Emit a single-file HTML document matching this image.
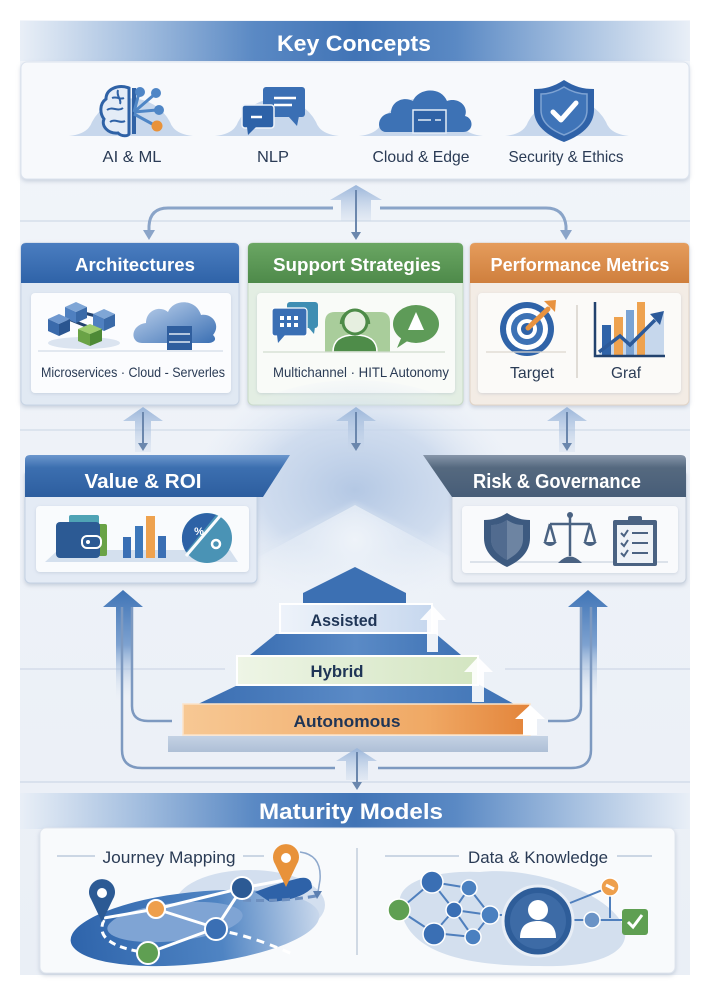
<!DOCTYPE html>
<html><head><meta charset="utf-8">
<style>
html,body{margin:0;padding:0;background:#fff;}
svg{display:block;}
text{font-family:"Liberation Sans",Arial,sans-serif;}
</style></head><body>
<svg width="710" height="996" viewBox="0 0 710 996" xmlns="http://www.w3.org/2000/svg">
<defs>
 <linearGradient id="bg" x1="0" y1="0" x2="0" y2="1">
  <stop offset="0" stop-color="#f2f5fa"/><stop offset="1" stop-color="#eaeff6"/>
 </linearGradient>
 <linearGradient id="band" x1="0" y1="0" x2="1" y2="0">
  <stop offset="0" stop-color="#e9eff7"/><stop offset="0.17" stop-color="#a6c0e0"/>
  <stop offset="0.35" stop-color="#5a89c4"/><stop offset="0.5" stop-color="#4174b6"/>
  <stop offset="0.65" stop-color="#5a89c4"/><stop offset="0.83" stop-color="#a6c0e0"/>
  <stop offset="1" stop-color="#e9eff7"/>
 </linearGradient>
 <linearGradient id="hBlue" x1="0" y1="0" x2="0" y2="1"><stop offset="0" stop-color="#4a7dc0"/><stop offset="1" stop-color="#2f63a8"/></linearGradient>
 <linearGradient id="hGreen" x1="0" y1="0" x2="0" y2="1"><stop offset="0" stop-color="#6aa663"/><stop offset="1" stop-color="#4e8a4a"/></linearGradient>
 <linearGradient id="hOrange" x1="0" y1="0" x2="0" y2="1"><stop offset="0" stop-color="#e59c5c"/><stop offset="1" stop-color="#cf7f3d"/></linearGradient>
 <linearGradient id="hVal" x1="0" y1="0" x2="0" y2="1"><stop offset="0" stop-color="#6c97cd"/><stop offset="0.3" stop-color="#3c6fb0"/><stop offset="1" stop-color="#2d5e9f"/></linearGradient>
 <linearGradient id="hRisk" x1="0" y1="0" x2="0" y2="1"><stop offset="0" stop-color="#8796aa"/><stop offset="0.3" stop-color="#55697f"/><stop offset="1" stop-color="#475d78"/></linearGradient>
 <linearGradient id="upArrow" x1="0" y1="0" x2="0" y2="1"><stop offset="0" stop-color="#9bb6da"/><stop offset="1" stop-color="#c9d7ea" stop-opacity="0.3"/></linearGradient>
 <linearGradient id="bigArrow" x1="0" y1="0" x2="0" y2="1"><stop offset="0" stop-color="#3f74b6"/><stop offset="0.5" stop-color="#7ea2d0"/><stop offset="1" stop-color="#dfe7f2" stop-opacity="0"/></linearGradient>
 <radialGradient id="glowR" cx="355" cy="490" r="170" gradientUnits="userSpaceOnUse" gradientTransform="translate(355 490) scale(1 0.7) translate(-355 -490)">
  <stop offset="0" stop-color="#b4c8e4"/><stop offset="0.55" stop-color="#c8d7ec" stop-opacity="0.8"/><stop offset="1" stop-color="#e9eff7" stop-opacity="0"/>
 </radialGradient>
 <radialGradient id="roofR" cx="355" cy="540" r="120" gradientUnits="userSpaceOnUse">
  <stop offset="0" stop-color="#eef3f9"/><stop offset="1" stop-color="#eef3f9" stop-opacity="0"/>
 </radialGradient>
 <linearGradient id="barA" x1="0" y1="0" x2="1" y2="0"><stop offset="0" stop-color="#eef3fa"/><stop offset="1" stop-color="#c6d7ee"/></linearGradient>
 <linearGradient id="barH" x1="0" y1="0" x2="1" y2="0"><stop offset="0" stop-color="#eef5e6"/><stop offset="1" stop-color="#d3e5c1"/></linearGradient>
 <linearGradient id="barO" x1="0" y1="0" x2="1" y2="0"><stop offset="0" stop-color="#f7c894"/><stop offset="0.7" stop-color="#f0a965"/><stop offset="1" stop-color="#e3843a"/></linearGradient>
 <linearGradient id="pyr" x1="0" y1="0" x2="1" y2="0"><stop offset="0" stop-color="#3a6eb2"/><stop offset="0.5" stop-color="#5a8ac6"/><stop offset="1" stop-color="#3f73b5"/></linearGradient>
 <linearGradient id="slab" x1="0" y1="0" x2="0" y2="1"><stop offset="0" stop-color="#c4d2e4"/><stop offset="1" stop-color="#aebfd6"/></linearGradient>
 <linearGradient id="archCloud" x1="0" y1="0" x2="1" y2="1"><stop offset="0" stop-color="#c2d5ee"/><stop offset="1" stop-color="#3a6fb3"/></linearGradient>
 <linearGradient id="journey" x1="0" y1="0" x2="1" y2="0"><stop offset="0" stop-color="#2e64ab"/><stop offset="0.6" stop-color="#4f84c3"/><stop offset="1" stop-color="#c9d8ec"/></linearGradient>
 <filter id="sh" x="-10%" y="-10%" width="120%" height="130%"><feDropShadow dx="0" dy="2" stdDeviation="2" flood-color="#7d8fa8" flood-opacity="0.35"/></filter>
 <filter id="sh2" x="-10%" y="-10%" width="120%" height="130%"><feDropShadow dx="0" dy="1" stdDeviation="1.5" flood-color="#8a9ab0" flood-opacity="0.3"/></filter>
 <filter id="blur"><feGaussianBlur stdDeviation="3"/></filter>
</defs>

<rect x="0" y="0" width="710" height="996" fill="#ffffff"/>
<rect x="20" y="20" width="670" height="955" fill="url(#bg)"/>

<line x1="20" y1="221" x2="690" y2="221" stroke="#d6dfea" stroke-width="1.5"/>
<line x1="20" y1="430" x2="690" y2="430" stroke="#d6dfea" stroke-width="1.5"/>
<line x1="20" y1="669" x2="225" y2="669" stroke="#d3dcea" stroke-width="1.5"/>
<line x1="505" y1="669" x2="690" y2="669" stroke="#d3dcea" stroke-width="1.5"/>
<line x1="20" y1="782" x2="690" y2="782" stroke="#d3dcea" stroke-width="1.5"/>

<!-- KEY CONCEPTS header -->
<rect x="20" y="21" width="670" height="40" fill="url(#band)"/>
<text x="354" y="51" font-size="22" font-weight="bold" fill="#ffffff" text-anchor="middle" textLength="154" lengthAdjust="spacingAndGlyphs">Key Concepts</text>

<rect x="21" y="62" width="668" height="117" rx="6" fill="#f7f9fc" stroke="#dbe3ee" filter="url(#sh)"/>

<g fill="#c7d7ec">
 <path d="M69,136 Q88,134 92,122 A44 44 0 0 1 170,122 Q174,134 193,136 Z"/>
 <path d="M215,136 Q234,134 238,122 A44 44 0 0 1 316,122 Q320,134 339,136 Z"/>
 <path d="M359,136 Q378,134 382,122 A44 44 0 0 1 460,122 Q464,134 483,136 Z"/>
 <path d="M505,136 Q524,134 528,122 A44 44 0 0 1 606,122 Q610,134 629,136 Z"/>
</g>
<path d="M129,88 C118,84 106,89 106,99 C99,104 100,114 104,119 C101,126 108,134 118,133 C122,137 128,136 129,134 Z" fill="#e4ecf7" stroke="#2f62a6" stroke-width="3"/>
<path d="M112,98 C117,96 120,100 124,98 M107,110 C112,106 118,112 123,108 M110,122 C115,118 120,124 125,121 M118,90 C116,96 122,100 120,104" fill="none" stroke="#2f62a6" stroke-width="2"/>
<line x1="134" y1="88" x2="134" y2="134" stroke="#2f62a6" stroke-width="4"/>
<g stroke="#4f86c6" stroke-width="3" fill="none">
 <path d="M134,112 L139,93"/><path d="M134,112 L155,94"/><path d="M134,112 L157,110"/><path d="M134,114 L156,126"/>
</g>
<circle cx="140" cy="92" r="5" fill="#4f86c6"/>
<circle cx="156" cy="93" r="5" fill="#4f86c6"/>
<circle cx="159" cy="110" r="5" fill="#4f86c6"/>
<circle cx="157" cy="126" r="5.5" fill="#e8923a"/>
<rect x="263" y="87" width="42" height="30" rx="3" fill="#3a6fb4"/>
<polygon points="288,116 299,116 297,126" fill="#3a6fb4"/>
<line x1="274" y1="98" x2="296" y2="98" stroke="#fff" stroke-width="2.5"/>
<line x1="274" y1="105" x2="292" y2="105" stroke="#fff" stroke-width="2.5"/>
<rect x="242" y="105" width="32" height="23" rx="3" fill="#2d62a8" stroke="#eef3fa" stroke-width="1.5"/>
<polygon points="247,127 256,127 248,135" fill="#2d62a8"/>
<line x1="251" y1="117" x2="262" y2="117" stroke="#fff" stroke-width="2.5"/>
<path d="M386,132 C376,132 376,114 391,113 C391,101 404,96 413,101 C418,88 441,86 447,101 C458,97 469,106 465,116 C474,118 474,132 463,132 Z" fill="#3d72b5"/>
<rect x="413" y="110" width="33" height="23" fill="#2f62a6" stroke="#e4ecf7" stroke-width="1.5"/>
<line x1="418" y1="120" x2="431" y2="120" stroke="#e4ecf7" stroke-width="1.5"/>
<line x1="435" y1="120" x2="441" y2="120" stroke="#e4ecf7" stroke-width="1.5"/>
<path d="M564,80 C553,87 545,89 534,89 L534,110 C534,126 548,136 564,142 C580,136 594,126 594,110 L594,89 C583,89 575,87 564,80 Z" fill="#2f62a8"/>
<path d="M564,87 C556,92 549,94 541,94 L541,110 C541,122 551,130 564,135 C577,130 587,122 587,110 L587,94 C579,94 572,92 564,87 Z" fill="#3f74b8" stroke="#7ea3d3" stroke-width="1.5"/>
<polyline points="553,112 561,120 576,103" fill="none" stroke="#fff" stroke-width="5" stroke-linecap="round" stroke-linejoin="round"/>

<g font-size="16" fill="#2a3b55" text-anchor="middle">
 <text x="132" y="162" textLength="59" lengthAdjust="spacingAndGlyphs">AI &amp; ML</text>
 <text x="273" y="162" textLength="32" lengthAdjust="spacingAndGlyphs">NLP</text>
 <text x="421" y="162" textLength="97" lengthAdjust="spacingAndGlyphs">Cloud &amp; Edge</text>
 <text x="566" y="162" textLength="115" lengthAdjust="spacingAndGlyphs">Security &amp; Ethics</text>
</g>

<polygon points="356,185 382,200 371,200 371,221 341,221 341,200 330,200" fill="url(#upArrow)"/>
<line x1="356" y1="190" x2="356" y2="234" stroke="#6b87ad" stroke-width="2"/>
<polygon points="351,232 361,232 356,240" fill="#6b87ad"/>
<path d="M333,208 L168,208 Q150,208 149,226 L149,231" fill="none" stroke="#8aa4c8" stroke-width="3"/>
<polygon points="143,230 155,230 149,240" fill="#8aa4c8"/>
<path d="M380,208 L546,208 Q564,208 566,226 L566,231" fill="none" stroke="#8aa4c8" stroke-width="3"/>
<polygon points="560,230 572,230 566,240" fill="#8aa4c8"/>

<!-- Architectures -->
<g filter="url(#sh)">
 <rect x="21" y="243" width="218" height="162" rx="5" fill="#e1e9f3" stroke="#c6d3e4"/>
</g>
<path d="M21,283 L21,248 Q21,243 26,243 L234,243 Q239,243 239,248 L239,283 Z" fill="url(#hBlue)"/>
<text x="135" y="271" font-size="18" font-weight="bold" fill="#fff" text-anchor="middle" textLength="120" lengthAdjust="spacingAndGlyphs">Architectures</text>
<rect x="31" y="293" width="200" height="100" rx="4" fill="#fbfcfe" filter="url(#sh2)"/>
<ellipse cx="84" cy="343" rx="36" ry="6" fill="#dbe4f0"/>
<line x1="66" y1="318" x2="96" y2="330" stroke="#22426e" stroke-width="3"/>
<line x1="80" y1="312" x2="104" y2="318" stroke="#22426e" stroke-width="3"/>
<g>
 <polygon points="76,302 87,307 76,312 65,307" fill="#7fa6d6"/><polygon points="65,307 76,312 76,323 65,318" fill="#4f80c0"/><polygon points="76,312 87,307 87,318 76,323" fill="#3a6aa8"/>
 <polygon points="59,314 70,319 59,324 48,319" fill="#6f98cf"/><polygon points="48,319 59,324 59,336 48,331" fill="#3a6aab"/><polygon points="59,324 70,319 70,331 59,336" fill="#2a5590"/>
 <polygon points="104,309 115,314 104,319 93,314" fill="#7fa6d6"/><polygon points="93,314 104,319 104,331 93,326" fill="#4f80c0"/><polygon points="104,319 115,314 115,326 104,331" fill="#3a6aa8"/>
 <polygon points="90,324 102,329 90,334 78,329" fill="#9ccc6e"/><polygon points="78,329 90,334 90,346 78,341" fill="#6aa346"/><polygon points="90,334 102,329 102,341 90,346" fill="#4e8a36"/>
</g>
<path d="M142,343 C130,343 130,325 146,323 C146,310 160,305 168,312 C173,299 196,298 201,315 C213,313 221,326 213,335 C218,340 213,343 208,343 Z" fill="url(#archCloud)"/>
<rect x="167" y="326" width="25" height="24" fill="#2f5e9e"/>
<line x1="169" y1="334" x2="190" y2="334" stroke="#dfe8f4" stroke-width="1.5"/>
<line x1="169" y1="342" x2="190" y2="342" stroke="#dfe8f4" stroke-width="1.5"/>
<line x1="38" y1="351" x2="223" y2="351" stroke="#d4dce7" stroke-width="1.2"/>
<text x="133" y="377" font-size="14" fill="#2a3b55" text-anchor="middle" textLength="184" lengthAdjust="spacingAndGlyphs">Microservices · Cloud - Serverles</text>

<!-- Support Strategies -->
<g filter="url(#sh)">
 <rect x="248" y="243" width="215" height="162" rx="5" fill="#e3eee3" stroke="#c7d9c6"/>
</g>
<path d="M248,283 L248,248 Q248,243 253,243 L458,243 Q463,243 463,248 L463,283 Z" fill="url(#hGreen)"/>
<text x="357" y="271" font-size="18" font-weight="bold" fill="#fff" text-anchor="middle" textLength="168" lengthAdjust="spacingAndGlyphs">Support Strategies</text>
<rect x="257" y="293" width="198" height="100" rx="4" fill="#f9fbf8" filter="url(#sh2)"/>
<rect x="287" y="302" width="31" height="26" rx="3" fill="#3f8eb3"/>
<polygon points="308,327 315,327 314,334" fill="#3f8eb3"/>
<rect x="272" y="308" width="35" height="28" rx="3" fill="#3a6fb4" stroke="#fff" stroke-width="1.2"/>
<polygon points="277,335 285,335 278,343" fill="#3a6fb4"/>
<g fill="#fff">
 <rect x="280" y="316" width="4" height="4"/><rect x="287" y="316" width="4" height="4"/><rect x="294" y="316" width="4" height="4"/>
 <rect x="280" y="323" width="4" height="4"/><rect x="287" y="323" width="4" height="4"/><rect x="294" y="323" width="4" height="4"/>
</g>
<path d="M325,352 L325,322 Q325,312 335,312 L380,312 Q390,312 390,322 L390,352 Z" fill="#a9cd9b"/>
<path d="M333,352 C333,339 343,335 355,335 C367,335 377,339 377,352 Z" fill="#4e8c49" stroke="#fff" stroke-width="1.5"/>
<circle cx="355" cy="322" r="12" fill="#e6efe0" stroke="#4d8b48" stroke-width="3"/>
<path d="M341,324 A14 14 0 0 1 369,324" fill="none" stroke="#4d8b48" stroke-width="2.5"/>
<ellipse cx="416" cy="324" rx="23" ry="19" fill="#5e9b58"/>
<polygon points="402,336 409,340 397,348" fill="#5e9b58"/>
<polygon points="416,312 424,330 408,330" fill="#fff"/>
<line x1="263" y1="352" x2="445" y2="352" stroke="#d2dccf" stroke-width="1.2"/>
<text x="361" y="377" font-size="14" fill="#2a3b55" text-anchor="middle" textLength="176" lengthAdjust="spacingAndGlyphs">Multichannel · HITL  Autonomy</text>

<!-- Performance Metrics -->
<g filter="url(#sh)">
 <rect x="470" y="243" width="219" height="162" rx="5" fill="#f3ece5" stroke="#e0d3c6"/>
</g>
<path d="M470,283 L470,248 Q470,243 475,243 L684,243 Q689,243 689,248 L689,283 Z" fill="url(#hOrange)"/>
<text x="580" y="271" font-size="18" font-weight="bold" fill="#fff" text-anchor="middle" textLength="179" lengthAdjust="spacingAndGlyphs">Performance Metrics</text>
<rect x="478" y="293" width="203" height="100" rx="4" fill="#fbfaf8" filter="url(#sh2)"/>
<circle cx="527" cy="329" r="27" fill="#2f63a8"/>
<circle cx="527" cy="329" r="21" fill="#fff"/>
<circle cx="527" cy="329" r="16" fill="#3d72b5"/>
<circle cx="527" cy="329" r="10" fill="#fff"/>
<circle cx="527" cy="329" r="6" fill="#2f63a8"/>
<line x1="528" y1="328" x2="548" y2="309" stroke="#e8923f" stroke-width="5" stroke-linecap="round"/>
<polygon points="544,301 556,300 555,312" fill="#e8923f"/>
<line x1="486" y1="352" x2="566" y2="352" stroke="#dcd6cf" stroke-width="1.2"/>
<line x1="577" y1="305" x2="577" y2="378" stroke="#cfc8c0" stroke-width="1.2"/>
<polygon points="598,355 620,337 630,345 664,312 664,355" fill="#c6d7ec"/>
<rect x="602" y="325" width="9" height="30" fill="#2f63a8"/>
<rect x="614" y="317" width="9" height="38" fill="#eea24f"/>
<rect x="626" y="310" width="8" height="45" fill="#7aa3d4"/>
<rect x="637" y="302" width="8" height="53" fill="#eea24f"/>
<polyline points="599,352 620,336 630,345 655,320" fill="none" stroke="#2c5a9a" stroke-width="3.5"/>
<polygon points="650,314 664,311 660,325" fill="#2c5a9a"/>
<polyline points="595,302 595,356 665,356" fill="none" stroke="#22426e" stroke-width="2.5"/>
<text x="532" y="378" font-size="16" fill="#2a3b55" text-anchor="middle" textLength="44" lengthAdjust="spacingAndGlyphs">Target</text>
<text x="626" y="378" font-size="16" fill="#2a3b55" text-anchor="middle" textLength="30" lengthAdjust="spacingAndGlyphs">Graf</text>

<!-- glow and roof between boxes (drawn before row3 boxes) -->
<ellipse cx="355" cy="500" rx="175" ry="120" fill="url(#glowR)"/>
<polygon points="355,505 225,575 225,620 485,620 485,575" fill="url(#roofR)"/>
<polyline points="245,560 355,505 465,560" fill="none" stroke="#dfe8f4" stroke-width="3" opacity="0.8" filter="url(#blur)"/>

<!-- row2 -> row3 arrows -->
<g>
 <polygon points="143,407 163,421 151,421 151,452 135,452 135,421 123,421" fill="url(#upArrow)"/>
 <line x1="143" y1="412" x2="143" y2="445" stroke="#6b87ad" stroke-width="2"/><polygon points="138,443 148,443 143,451" fill="#6b87ad"/>
 <polygon points="356,407 376,421 364,421 364,452 348,452 348,421 336,421" fill="url(#upArrow)"/>
 <line x1="356" y1="412" x2="356" y2="445" stroke="#6b87ad" stroke-width="2"/><polygon points="351,443 361,443 356,451" fill="#6b87ad"/>
 <polygon points="567,407 587,421 575,421 575,452 559,452 559,421 547,421" fill="url(#upArrow)"/>
 <line x1="567" y1="412" x2="567" y2="445" stroke="#6b87ad" stroke-width="2"/><polygon points="562,443 572,443 567,451" fill="#6b87ad"/>
</g>

<!-- Value & ROI -->
<g filter="url(#sh)">
 <rect x="25" y="470" width="232" height="113" rx="5" fill="#e4ebf5" stroke="#c3d1e3"/>
</g>
<path d="M25,497 L25,460 Q25,455 30,455 L290,455 L263,497 Z" fill="url(#hVal)"/>
<text x="143" y="488" font-size="20" font-weight="bold" fill="#fff" text-anchor="middle" textLength="117" lengthAdjust="spacingAndGlyphs">Value &amp; ROI</text>
<rect x="36" y="506" width="213" height="66" rx="4" fill="#f9fbfd" filter="url(#sh2)"/>
<polygon points="58,550 230,550 238,562 45,562" fill="#d4e0ee"/>
<rect x="69" y="515" width="30" height="11" rx="2" fill="#4fa3b5"/>
<rect x="95" y="524" width="12" height="32" rx="2" fill="#6aa346"/>
<rect x="56" y="522" width="44" height="36" rx="4" fill="#2c5a94"/>
<rect x="82" y="536" width="19" height="12" rx="5" fill="#2c5a94" stroke="#fff" stroke-width="2"/>
<circle cx="88" cy="542" r="2" fill="#fff"/>
<rect x="123" y="537" width="8" height="21" fill="#3a6fb4"/>
<rect x="135" y="526" width="8" height="32" fill="#3d78bb"/>
<rect x="146" y="516" width="9" height="42" fill="#eea24f"/>
<rect x="158" y="536" width="8" height="22" fill="#3a6fb4"/>
<circle cx="207" cy="538" r="25" fill="#4a93b5"/>
<path d="M186,552 A25 25 0 0 1 216,515 Z" fill="#2e62a6"/>
<line x1="186" y1="556" x2="220" y2="516" stroke="#f9fbfd" stroke-width="3"/>
<text x="199" y="535" font-size="11" font-weight="bold" fill="#fff" text-anchor="middle">%</text>
<circle cx="216" cy="544" r="4" fill="none" stroke="#fff" stroke-width="2.5"/>

<!-- Risk & Governance -->
<g filter="url(#sh)">
 <rect x="452" y="470" width="234" height="113" rx="5" fill="#ebeff5" stroke="#c9d2de"/>
</g>
<path d="M423,455 L681,455 Q686,455 686,460 L686,497 L452,497 Z" fill="url(#hRisk)"/>
<text x="557" y="488" font-size="20" font-weight="bold" fill="#fff" text-anchor="middle" textLength="168" lengthAdjust="spacingAndGlyphs">Risk &amp; Governance</text>
<rect x="462" y="506" width="216" height="67" rx="4" fill="#f9fafc" filter="url(#sh2)"/>
<line x1="470" y1="562" x2="668" y2="562" stroke="#d2d9e3" stroke-width="1.5"/>
<path d="M507,513 C499,518 492,520 484,520 L484,538 C484,552 494,561 507,567 C520,561 530,552 530,538 L530,520 C522,520 515,518 507,513 Z" fill="#3d5a80"/>
<path d="M507,520 C501,524 496,525 491,525 L491,539 C491,549 498,555 507,560 C516,555 523,549 523,539 L523,525 C518,525 513,524 507,520 Z" fill="#6d84a2"/>
<path d="M507,520 L507,560 C498,555 491,549 491,539 L491,525 C496,525 501,524 507,520 Z" fill="#516b8f"/>
<g stroke="#4a6282" stroke-width="2.5" fill="none">
 <line x1="570" y1="515" x2="570" y2="556"/>
 <line x1="550" y1="524" x2="590" y2="524"/>
 <line x1="550" y1="524" x2="545" y2="542"/><line x1="550" y1="524" x2="555" y2="542"/>
 <line x1="590" y1="524" x2="585" y2="542"/><line x1="590" y1="524" x2="595" y2="542"/>
</g>
<circle cx="570" cy="515" r="3" fill="#4a6282"/>
<path d="M543,542 L557,542 Q550,550 543,542 Z" fill="#4a6282"/>
<path d="M583,542 L597,542 Q590,550 583,542 Z" fill="#4a6282"/>
<path d="M558,563 Q570,550 582,563 Z" fill="#4a6282"/>
<rect x="613" y="520" width="44" height="46" rx="2" fill="#4a6282"/>
<rect x="617" y="525" width="36" height="38" fill="#eef2f7"/>
<rect x="628" y="516" width="14" height="7" rx="2" fill="#4a6282"/>
<g stroke="#4a6282" stroke-width="2" fill="none">
 <polyline points="621,533 624,536 628,530"/><line x1="632" y1="533" x2="648" y2="533"/>
 <polyline points="621,543 624,546 628,540"/><line x1="632" y1="543" x2="648" y2="543"/>
 <polyline points="621,553 624,556 628,550"/><line x1="632" y1="553" x2="648" y2="553"/>
</g>

<!-- side big arrows and connectors -->
<polygon points="123,590 143,607 132,607 132,700 116,700 116,607 103,607" fill="url(#bigArrow)"/>
<polygon points="588,590 608,607 597,607 597,700 581,700 581,607 568,607" fill="url(#bigArrow)"/>
<g fill="none" stroke="#7d99c0" stroke-width="2.5">
 <path d="M122,607 L122,750 Q122,768 142,768 L335,768"/>
 <path d="M132,607 L132,706 Q132,721 148,721 L172,721"/>
 <path d="M591,607 L591,750 Q591,768 571,768 L378,768"/>
 <path d="M581,607 L581,706 Q581,721 565,721 L548,721"/>
</g>

<!-- pyramid -->
<polygon points="303,604 303,593 355,567 406,593 406,604" fill="#3c70b3"/>
<polygon points="250,655 276,634 436,634 461,655" fill="url(#pyr)"/>
<polygon points="198,704 240,684 478,684 514,704" fill="url(#pyr)"/>
<rect x="168" y="736" width="380" height="16" fill="url(#slab)"/>
<rect x="280" y="604" width="152" height="29" fill="url(#barA)" stroke="#fff" stroke-width="2"/>
<text x="344" y="626" font-size="17" font-weight="bold" fill="#1f3556" text-anchor="middle" textLength="67" lengthAdjust="spacingAndGlyphs">Assisted</text>
<rect x="237" y="656" width="241" height="29" fill="url(#barH)" stroke="#fff" stroke-width="2"/>
<text x="337" y="677" font-size="17" font-weight="bold" fill="#1f3556" text-anchor="middle" textLength="53" lengthAdjust="spacingAndGlyphs">Hybrid</text>
<rect x="183" y="704" width="347" height="31" fill="url(#barO)" stroke="#fbe3c8" stroke-width="1.5"/>
<text x="347" y="727" font-size="17" font-weight="bold" fill="#1f3556" text-anchor="middle" textLength="107" lengthAdjust="spacingAndGlyphs">Autonomous</text>
<g fill="#ffffff">
 <polygon points="433,606 446,620 438,620 438,652 427,652 427,620 420,620" opacity="0.9"/>
 <polygon points="478,657 493,672 484,672 484,702 472,702 472,672 464,672" opacity="0.9"/>
 <polygon points="530,705 545,719 537,719 537,735 523,735 523,719 515,719"/>
</g>

<polygon points="357,748 377,761 368,761 368,780 346,780 346,761 336,761" fill="url(#upArrow)"/>
<line x1="357" y1="752" x2="357" y2="784" stroke="#6b87ad" stroke-width="2"/>
<polygon points="352,782 362,782 357,790" fill="#6b87ad"/>

<!-- MATURITY MODELS -->
<rect x="20" y="793" width="670" height="36" fill="url(#band)"/>
<text x="351" y="819" font-size="22" font-weight="bold" fill="#fff" text-anchor="middle" textLength="184" lengthAdjust="spacingAndGlyphs">Maturity Models</text>

<rect x="40" y="828" width="635" height="145" rx="6" fill="#f8fafc" stroke="#dfe5ee" filter="url(#sh)"/>
<line x1="357" y1="848" x2="357" y2="955" stroke="#c3cedd" stroke-width="1.5"/>
<line x1="57" y1="856" x2="95" y2="856" stroke="#bccadb" stroke-width="1.5"/>
<line x1="243" y1="856" x2="264" y2="856" stroke="#bccadb" stroke-width="1.5"/>
<text x="169" y="863" font-size="17" fill="#2a3b55" text-anchor="middle" textLength="133" lengthAdjust="spacingAndGlyphs">Journey Mapping</text>
<line x1="385" y1="856" x2="459" y2="856" stroke="#bccadb" stroke-width="1.5"/>
<line x1="617" y1="856" x2="652" y2="856" stroke="#bccadb" stroke-width="1.5"/>
<text x="538" y="863" font-size="17" fill="#2a3b55" text-anchor="middle" textLength="140" lengthAdjust="spacingAndGlyphs">Data &amp; Knowledge</text>

<ellipse cx="250" cy="905" rx="75" ry="35" fill="#c9d8eb" opacity="0.8"/>
<ellipse cx="195" cy="928" rx="125" ry="36" fill="url(#journey)" transform="rotate(-6 195 928)"/>
<ellipse cx="175" cy="922" rx="68" ry="19" fill="#7fa4d4" transform="rotate(-6 175 922)"/>
<path d="M255,892 Q275,884 300,878 Q312,876 312,888 Q300,900 270,902" fill="#2e62a8"/>
<g fill="none" stroke="#fff" stroke-width="3">
 <path d="M104,918 L156,909 L242,888 L285,880"/>
 <path d="M156,909 L216,928 L242,888"/>
 <path d="M216,928 L148,953"/>
 <path d="M104,920 Q92,945 148,953" stroke-dasharray="7 5"/>
 <path d="M216,930 Q250,935 292,954" stroke-dasharray="8 6"/>
</g>
<path d="M243,900 Q280,902 316,896" fill="none" stroke="#6d8fbf" stroke-width="3" stroke-dasharray="8 5"/>
<path d="M300,852 Q322,855 320,880 L318,892" fill="none" stroke="#8ea8cc" stroke-width="1.5"/>
<polygon points="313,891 322,891 317,899" fill="#5c7fb0"/>
<circle cx="156" cy="909" r="9" fill="#ee9f4c" stroke="#fff" stroke-width="2"/>
<circle cx="242" cy="888" r="11" fill="#2c5a94" stroke="#fff" stroke-width="2"/>
<circle cx="216" cy="929" r="11" fill="#3a6fb4" stroke="#fff" stroke-width="2"/>
<circle cx="148" cy="953" r="11" fill="#5f9f52" stroke="#fff" stroke-width="2"/>
<path d="M102,922 L91,899 A13 13 0 1 1 113,899 Z" fill="#2c5a94"/>
<circle cx="102" cy="893" r="5" fill="#fff"/>
<path d="M286,887 L275,864 A13 13 0 1 1 297,864 Z" fill="#e8923a"/>
<circle cx="286" cy="858" r="5" fill="#fff"/>

<path d="M400,905 C395,880 440,870 480,872 C530,866 600,890 620,920 C640,950 600,968 540,966 C470,966 405,955 400,905 Z" fill="#d3dfee"/>
<g stroke="#4f7fbd" stroke-width="2">
 <line x1="432" y1="882" x2="469" y2="888"/><line x1="432" y1="882" x2="399" y2="910"/><line x1="432" y1="882" x2="454" y2="910"/>
 <line x1="469" y1="888" x2="454" y2="910"/><line x1="469" y1="888" x2="490" y2="915"/><line x1="399" y1="910" x2="434" y2="933"/>
 <line x1="454" y1="910" x2="434" y2="933"/><line x1="454" y1="910" x2="473" y2="937"/><line x1="454" y1="910" x2="490" y2="915"/>
 <line x1="434" y1="933" x2="473" y2="937"/><line x1="473" y1="937" x2="490" y2="915"/><line x1="490" y1="915" x2="505" y2="915"/>
 <line x1="570" y1="903" x2="610" y2="887"/><line x1="610" y1="887" x2="610" y2="918"/><line x1="572" y1="920" x2="635" y2="920"/>
</g>
<circle cx="432" cy="882" r="11" fill="#3a6fb4" stroke="#fff" stroke-width="1.5"/>
<circle cx="469" cy="888" r="8" fill="#4a80c0" stroke="#fff" stroke-width="1.5"/>
<circle cx="399" cy="910" r="11" fill="#5f9f52" stroke="#fff" stroke-width="1.5"/>
<circle cx="454" cy="910" r="8" fill="#3a6fb4" stroke="#fff" stroke-width="1.5"/>
<circle cx="490" cy="915" r="9" fill="#4a80c0" stroke="#fff" stroke-width="1.5"/>
<circle cx="434" cy="934" r="11" fill="#3a6fb4" stroke="#fff" stroke-width="1.5"/>
<circle cx="473" cy="937" r="8" fill="#4a80c0" stroke="#fff" stroke-width="1.5"/>
<circle cx="538" cy="921" r="35" fill="#2e5d99" stroke="#e8eef6" stroke-width="3"/>
<circle cx="538" cy="921" r="28" fill="#3d6ba6"/>
<circle cx="538" cy="910" r="10" fill="#fff"/>
<path d="M520,938 C520,925 528,921 538,921 C548,921 556,925 556,938 Z" fill="#fff"/>
<circle cx="610" cy="887" r="9" fill="#ee9f4c" stroke="#fff" stroke-width="1.5"/>
<line x1="606" y1="885" x2="614" y2="889" stroke="#fff" stroke-width="3"/>
<circle cx="592" cy="920" r="8" fill="#6a93c6" stroke="#fff" stroke-width="1.5"/>
<rect x="622" y="909" width="26" height="26" rx="3" fill="#5f9f52"/>
<polyline points="628,922 633,927 642,915" fill="none" stroke="#fff" stroke-width="3"/>
</svg>
</body></html>
